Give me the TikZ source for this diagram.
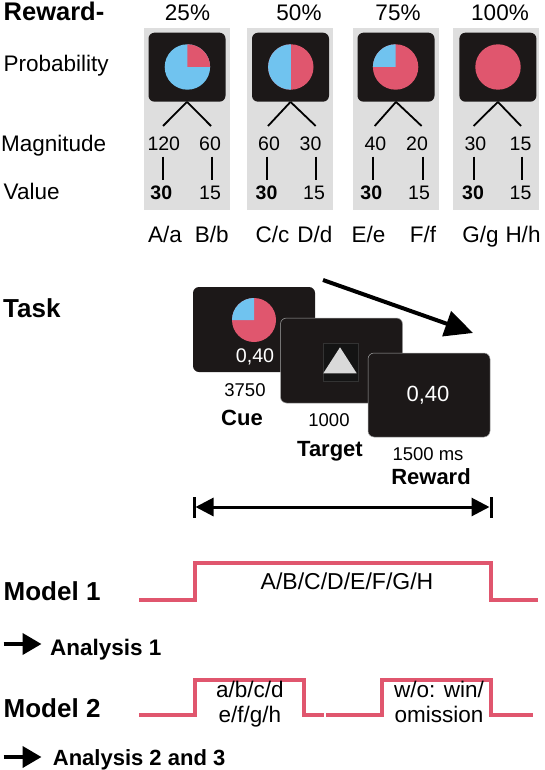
\documentclass[tikz,border=0pt]{standalone}
\usepackage{fontspec}
\setmainfont{Liberation Sans}
\usetikzlibrary{arrows.meta}
\definecolor{pinkr}{HTML}{E0566E}
\definecolor{skyb}{HTML}{70C3EF}
\definecolor{panelg}{HTML}{DEDEDE}
\definecolor{scr}{HTML}{1C1818}
\definecolor{tri}{HTML}{D9D9D9}
\tikzset{
  lbl/.style={inner sep=0pt, anchor=base, font=\fontsize{22.5}{27}\selectfont},
  numl/.style={inner sep=0pt, anchor=base, font=\fontsize{19.5}{23}\selectfont},
  numb/.style={inner sep=0pt, anchor=base, font=\fontsize{19.5}{23}\selectfont\bfseries},
  tnum/.style={inner sep=0pt, anchor=base, font=\fontsize{18.5}{22}\selectfont},
  hdr/.style={inner sep=0pt, anchor=base west, font=\fontsize{26}{30}\selectfont\bfseries},
  sub/.style={inner sep=0pt, anchor=base, font=\fontsize{22}{26}\selectfont\bfseries},
  panel/.style={fill=panelg, draw=none, inner sep=0pt, minimum width=86pt, minimum height=182pt},
  screen/.style={fill=scr, draw=none, rounded corners=6pt, inner sep=0pt, minimum width=77pt, minimum height=69pt},
  tscreen/.style={fill=scr, draw=black!35, line width=0.5pt, rounded corners=6pt, inner sep=0pt, minimum width=122pt, minimum height=85pt},
  branch/.style={line width=1.8pt, black},
  tick/.style={line width=1.8pt, black},
  model/.style={pinkr, line width=4pt},
  bigarrow/.style={line width=4pt, -{Triangle[length=28pt,width=26pt]}},
  anarrow/.style={line width=4pt, -{Triangle[length=19pt,width=21pt]}},
}
\begin{document}
\begin{tikzpicture}[x=1pt,y=-1pt]
\useasboundingbox[fill=white] (0,0) rectangle (544,770);

% left labels
\node[hdr, font=\fontsize{25.5}{30}\selectfont\bfseries] (rew) at (3.5,20.7) {Reward-};
\node[lbl, anchor=base west] (prob) at (3.5,71.7) {Probability};
\node[lbl, anchor=base west] (mag) at (1,151.5) {Magnitude};
\node[lbl, anchor=base west] (val) at (3.5,199.5) {Value};

% panels
\foreach \i/\gx/\bx/\pct/\px/\bl/\br/\ml/\mr/\mla/\mra/\tl/\tr/\vl/\vr/\la/\lb/\lax/\lbx in {
  1/187/187/25\%/187.5/163/211/163.8/210/120/60/163/212/161.3/210/A\slash a/B\slash b/165/211.7,
  2/290/290.5/50\%/299/268/315.7/269/310.5/60/30/267/316/266.5/314/C\slash c/D\slash d/272.4/315,
  3/395.5/396/75\%/398/374.7/421.6/375.4/417/40/20/373/422.6/371.3/419/E\slash e/F\slash f/368.5/423,
  4/496.3/497.9/100\%/500/473.6/521/475.4/520.5/30/15/473.6/522/473/520.5/G\slash g/H\slash h/480.6/523}{
  \node[panel] (pn\i) at (\gx,119.2) {};
  \node[screen] (sc\i) at (\bx,67.2) {};
  \node[lbl] (pc\i) at (\px,20.5) {\pct};
  \coordinate (bl\i) at (\bl,126);
  \coordinate (br\i) at (\br,126);
  \draw[branch] (sc\i.south) -- (bl\i);
  \draw[branch] (sc\i.south) -- (br\i);
  \node[numl] (ma\i) at (\ml,150.7) {\mla};
  \node[numl] (mb\i) at (\mr,150.7) {\mra};
  \coordinate (ta\i) at (\tl,156.7);
  \coordinate (tb\i) at (\tl,180);
  \coordinate (tc\i) at (\tr,156.7);
  \coordinate (td\i) at (\tr,180);
  \draw[tick] (ta\i) -- (tb\i);
  \draw[tick] (tc\i) -- (td\i);
  \node[numb] (va\i) at (\vl,199) {30};
  \node[numl] (vb\i) at (\vr,199) {15};
  \node[lbl] (la\i) at (\lax,242.7) {\la};
  \node[lbl] (lb\i) at (\lbx,242.7) {\lb};
}

% pies
\def\pr{22.7}
% 25%
\fill[skyb] (187.4,67) circle[radius=\pr];
\fill[pinkr] (187.4,67) -- ++(0,-\pr) arc[start angle=-90, end angle=0, radius=\pr] -- cycle;
% 50%
\fill[pinkr] (290.8,67) circle[radius=\pr];
\fill[skyb] (290.8,67) -- ++(0,-\pr) arc[start angle=-90, end angle=-270, radius=\pr] -- cycle;
% 75%
\fill[pinkr] (395.6,67) circle[radius=\pr];
\fill[skyb] (395.6,67) -- ++(-\pr,0) arc[start angle=180, end angle=270, radius=\pr] -- cycle;
% 100%
\fill[pinkr] (498,67) circle[radius=\pr];

% Task
\node[hdr] (task) at (3,317) {Task};
\node[tscreen, draw=none] (cue) at (254,329.5) {};
\fill[pinkr] (254,320) circle[radius=22];
\fill[skyb] (254,320) -- ++(-22,0) arc[start angle=180, end angle=270, radius=22] -- cycle;
\node[inner sep=0pt, anchor=base, font=\fontsize{19.7}{23}\selectfont, white] (cv) at (255,362) {0,40};
\node[tnum] (t1) at (245,396.5) {3750};
\node[sub] (cuel) at (242,425.7) {Cue};

\node[tscreen] (tgt) at (341.5,360.5) {};
\node[fill=black!92, draw=black!80, line width=0.4pt, inner sep=0pt, minimum width=35.6pt, minimum height=38.7pt] (tsq) at (340.5,362.3) {};
\fill[tri] (323.3,373.3) -- (356.7,373.3) -- (340,347.3) -- cycle;
\node[tnum] (t2) at (329,426.5) {1000};
\node[sub] (tgtl) at (330,456.7) {Target};

\node[tscreen, minimum height=84pt] (rwd) at (429,395) {};
\node[inner sep=0pt, anchor=base, font=\fontsize{22}{26}\selectfont, white] (rv) at (428,401.7) {0,40};
\node[tnum] (t3) at (428,460.7) {1500 ms};
\node[sub] (rwdl) at (431,484) {Reward};

\coordinate (aa) at (323,280);
\coordinate (ab) at (473,333);
\draw[bigarrow] (aa) -- (ab);

% duration arrow
\coordinate (dl) at (195.5,507);
\coordinate (dr) at (489.5,507);
\draw[line width=3pt, {Triangle[length=18pt,width=18pt]}-{Triangle[length=18pt,width=18pt]}] (dl) -- (dr);
\coordinate (dlt) at (194,497);
\coordinate (dlb) at (194,517.5);
\coordinate (drt) at (491,497);
\coordinate (drb) at (491,517.5);
\draw[line width=3pt] (dlt) -- (dlb);
\draw[line width=3pt] (drt) -- (drb);

% Model 1
\node[hdr] (m1) at (3.5,600) {Model 1};
\draw[model] (139,599.5) -- (195.3,599.5) -- (195.3,563) -- (491,563) -- (491,599.5) -- (538,599.5);
\node[lbl, font=\fontsize{23}{27}\selectfont] (m1t) at (347,589.3) {A/B/C/D/E/F/G/H};
\coordinate (a1s) at (3.5,644);
\coordinate (a1e) at (41.5,644);
\draw[anarrow] (a1s) -- (a1e);
\node[inner sep=0pt, anchor=base west, font=\fontsize{22.5}{27}\selectfont\bfseries] (an1) at (50,655) {Analysis 1};

% Model 2
\node[hdr] (m2) at (3.5,717) {Model 2};
\draw[model] (139,715) -- (195.3,715) -- (195.3,680) -- (303.5,680) -- (303.5,715) -- (324.3,715);
\draw[model] (326,715) -- (381.5,715) -- (381.5,680) -- (491,680) -- (491,715) -- (533,715);
\node[lbl] (m2a) at (249.8,697.3) {a/b/c/d};
\node[lbl] (m2b) at (249.8,722.7) {e/f/g/h};
\node[lbl] (m2c) at (439,697.3) {w/o: win/};
\node[lbl] (m2d) at (439,722.7) {omission};
\coordinate (a2s) at (3.5,757);
\coordinate (a2e) at (41.5,757);
\draw[anarrow] (a2s) -- (a2e);
\node[inner sep=0pt, anchor=base west, font=\fontsize{22}{27}\selectfont\bfseries] (an2) at (52.7,765) {Analysis 2 and 3};
\end{tikzpicture}
\end{document}
